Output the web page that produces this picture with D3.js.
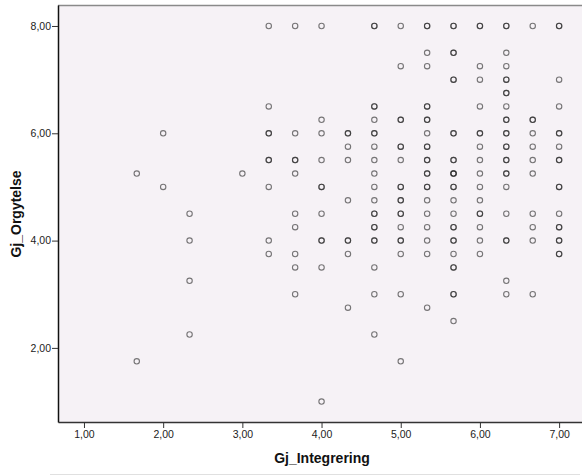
<!DOCTYPE html>
<html lang="no">
<head>
    <meta charset="utf-8">
    <title>Gj_Integrering vs Gj_Orgytelse</title>
    <script src="https://d3js.org/d3.v7.min.js"></script>
    <style type="text/css">
        body { margin: 0; background: #fff; }
        text { font-family: Arial, "Liberation Sans", sans-serif; }
    </style>
</head>
<body>
<script type="text/javascript">
    // Gj_Integrering levels (x), one column of points each
    var integrering = [5/3, 2, 7/3, 3, 10/3, 11/3, 4, 13/3, 14/3, 5, 16/3, 17/3, 6, 19/3, 20/3, 7];
    // Gj_Orgytelse values per column; a value listed twice = overlapping cases (darker ring)
    var orgytelse = [
        [5.25, 1.75],
        [6.0, 5.0],
        [4.5, 4.0, 3.25, 2.25],
        [5.25],
        [8, 6.5, 6.0, 6.0, 5.5, 5.5, 5.0, 4.0, 3.75],
        [8, 6.0, 5.5, 5.5, 5.25, 4.5, 4.25, 3.75, 3.5, 3.0],
        [8, 6.25, 6.0, 5.5, 5.0, 5.0, 4.5, 4.0, 4.0, 3.5, 1.0],
        [6.0, 6.0, 5.75, 5.5, 4.75, 4.0, 4.0, 3.75, 2.75],
        [8, 8, 6.5, 6.5, 6.25, 6.0, 6.0, 5.75, 5.5, 5.25, 5.0, 4.75, 4.5, 4.5, 4.25, 4.25, 4.0, 4.0, 3.5, 3.0, 2.25],
        [8, 7.25, 6.25, 6.25, 5.75, 5.75, 5.5, 5.0, 5.0, 4.75, 4.75, 4.5, 4.5, 4.25, 4.0, 4.0, 3.75, 3.0, 1.75],
        [8, 8, 7.5, 7.25, 6.5, 6.5, 6.25, 6.25, 6.0, 5.75, 5.75, 5.5, 5.5, 5.25, 5.25, 5.0, 5.0, 4.75, 4.5, 4.25, 4.0, 3.75, 2.75],
        [8, 8, 7.5, 7.5, 7.0, 7.0, 6.0, 6.0, 5.5, 5.5, 5.25, 5.25, 5.25, 5.0, 5.0, 4.75, 4.5, 4.25, 4.25, 4.0, 4.0, 3.75, 3.5, 3.5, 3.0, 3.0, 2.5],
        [8, 8, 7.25, 7.0, 6.5, 6.0, 6.0, 5.75, 5.5, 5.25, 5.0, 4.75, 4.5, 4.5, 4.25, 4.0, 3.75],
        [8, 8, 7.5, 7.25, 7.0, 7.0, 6.75, 6.75, 6.5, 6.25, 6.25, 6.0, 6.0, 5.75, 5.75, 5.5, 5.5, 5.25, 5.25, 5.0, 4.5, 4.0, 4.0, 3.25, 3.0],
        [8, 6.25, 6.25, 6.0, 5.75, 5.5, 5.25, 4.5, 4.25, 4.0, 3.0],
        [8, 8, 7.0, 6.5, 6.0, 6.0, 5.75, 5.5, 5.5, 5.0, 5.0, 4.5, 4.25, 4.25, 4.0, 4.0, 3.75, 3.75]
    ];
    var xTicks = [1, 2, 3, 4, 5, 6, 7];
    var yTicks = [2, 4, 6, 8];

    var w = 582;
    var h = 475;
    // plot frame (right edge runs past the window, as in the original export)
    var plotL = 58, plotT = 5, plotR = 590, plotB = 422;

    // flatten columns into points
    var points = [];
    for (var i = 0; i < integrering.length; i++) {
        for (var j = 0; j < orgytelse[i].length; j++) {
            points.push({ x: integrering[i], y: orgytelse[i][j] });
        }
    }

    var x = d3.scaleLinear().domain([0.672, 7.39]).range([plotL, plotR]);
    var y = d3.scaleLinear().domain([0.619, 8.391]).range([plotB, plotT]);
    var fmt = function(d) { return d3.format(".2f")(d).replace(".", ","); };

    var svg = d3.select("body").append("svg")
        .attr("width", w)
        .attr("height", h);

    // plot background
    svg.append("rect")
        .attr("x", plotL).attr("y", plotT)
        .attr("width", plotR - plotL).attr("height", plotB - plotT)
        .attr("fill", "#f6f2f6");

    // top frame line
    svg.append("line")
        .attr("x1", plotL).attr("x2", plotR)
        .attr("y1", plotT + 0.5).attr("y2", plotT + 0.5)
        .attr("stroke", "#8a8a8a").attr("stroke-width", 1.5);

    // markers
    svg.append("g")
        .selectAll("circle")
        .data(points)
        .enter()
        .append("circle")
        .attr("cx", function(d) { return x(d.x); })
        .attr("cy", function(d) { return y(d.y); })
        .attr("r", 2.7)
        .attr("fill", "none")
        .attr("stroke", "#222")
        .attr("stroke-opacity", 0.6)
        .attr("stroke-width", 1.1);

    // axes
    var xAxis = d3.axisBottom(x).tickValues(xTicks).tickFormat(fmt)
        .tickSizeInner(6).tickSizeOuter(0).tickPadding(3);
    var yAxis = d3.axisLeft(y).tickValues(yTicks).tickFormat(fmt)
        .tickSizeInner(6).tickSizeOuter(0).tickPadding(1);

    var gx = svg.append("g")
        .attr("transform", "translate(0," + plotB + ")")
        .call(xAxis);
    var gy = svg.append("g")
        .attr("transform", "translate(" + plotL + ",0)")
        .call(yAxis);

    gx.select(".domain").attr("stroke", "#333").attr("stroke-width", 1.5);
    gy.select(".domain").attr("stroke", "#111").attr("stroke-width", 1.5);
    svg.selectAll(".tick line").attr("stroke", "#333");
    svg.selectAll(".tick text")
        .attr("fill", "#222")
        .style("font-size", "10.5px");

    // axis titles
    svg.append("text")
        .attr("x", 322)
        .attr("y", 463)
        .attr("text-anchor", "middle")
        .style("font-size", "14px")
        .style("font-weight", "bold")
        .attr("fill", "#111")
        .text("Gj_Integrering");

    svg.append("text")
        .attr("transform", "translate(21,214) rotate(-90)")
        .attr("text-anchor", "middle")
        .style("font-size", "14px")
        .style("font-weight", "bold")
        .attr("fill", "#111")
        .text("Gj_Orgytelse");

    // bottom separator of the chart frame
    svg.append("line")
        .attr("x1", 50).attr("x2", 580)
        .attr("y1", 474.5).attr("y2", 474.5)
        .attr("stroke", "#e0e0e0");
</script>
</body>
</html>
